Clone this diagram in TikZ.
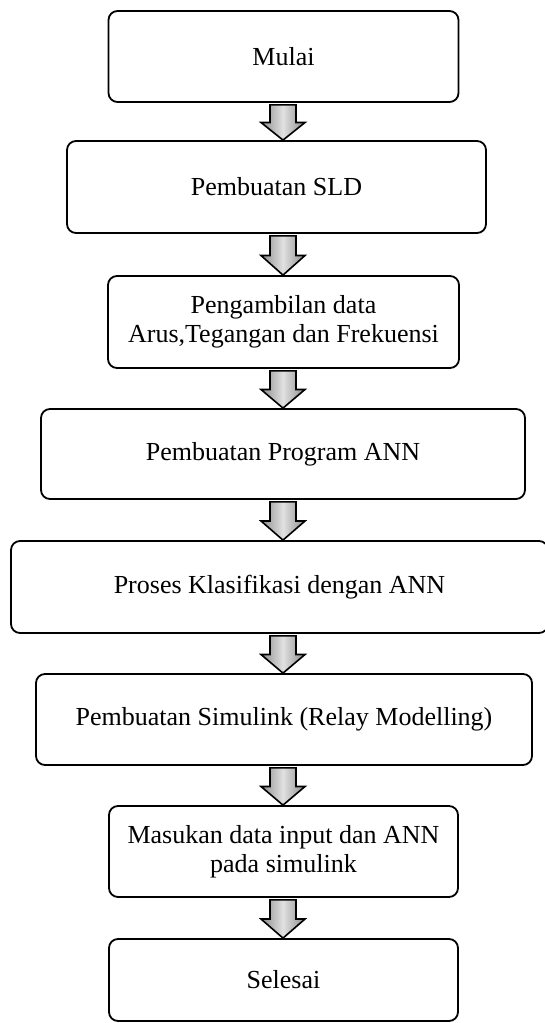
\documentclass[tikz,border=0pt]{standalone}
\usepackage{fontspec}
\setmainfont{Liberation Serif}
\usetikzlibrary{calc}
\tikzset{
  stepbox/.style={draw=black, line width=1.8pt, rounded corners=9pt,
    align=center, inner sep=0pt, font=\fontsize{26}{29}\selectfont},
  flowarrow/.style={draw=black, line width=1.6pt, line join=miter,
    left color=black!45, right color=black!45, middle color=black!12},
}
% block arrow from the bottom of #1 to the top of #2, on the common axis
\newcommand\blockarrow[2]{%
  \path[flowarrow] let \p1=(#1.south), \p2=(#2.north), \p3=(axis),
      \n1={\y1-2pt}, \n2={\n1-0.5*(\n1-\y2)} in
    (\x3-13pt,\n1) -- (\x3+13pt,\n1) -- (\x3+13pt,\n2) -- (\x3+22pt,\n2)
    -- (\x3,\y2) -- (\x3-22pt,\n2) -- (\x3-13pt,\n2) -- cycle;}
\begin{document}
\begin{tikzpicture}[x=1pt,y=-1pt]
\useasboundingbox (0,0) rectangle (544,1023);
\coordinate (axis) at (283,0);

\node[stepbox, minimum width=350pt, minimum height=91pt] (s1) at (283.5,56.5) {Mulai};
\node[stepbox, minimum width=419pt, minimum height=92pt] (s2) at (276.5,187) {Pembuatan SLD};
\node[stepbox, minimum width=351pt, minimum height=92pt] (s3) at (283.5,322)
  {Pengambilan data\\Arus,Tegangan dan Frekuensi};
\node[stepbox, minimum width=484pt, minimum height=90pt] (s4) at (283,454) {Pembuatan Program ANN};
\node[stepbox, minimum width=537pt, minimum height=92pt] (s5) at (279.5,587) {Proses Klasifikasi dengan ANN};
\node[stepbox, minimum width=496pt, minimum height=91pt] (s6) at (284,719.5) {Pembuatan Simulink (Relay Modelling)};
\node[stepbox, minimum width=349pt, minimum height=91pt] (s7) at (283.5,851.5)
  {Masukan data input dan ANN\\pada simulink};
\node[stepbox, minimum width=349pt, minimum height=82pt] (s8) at (283.5,980) {Selesai};

\blockarrow{s1}{s2}
\blockarrow{s2}{s3}
\blockarrow{s3}{s4}
\blockarrow{s4}{s5}
\blockarrow{s5}{s6}
\blockarrow{s6}{s7}
\blockarrow{s7}{s8}
\end{tikzpicture}
\end{document}
